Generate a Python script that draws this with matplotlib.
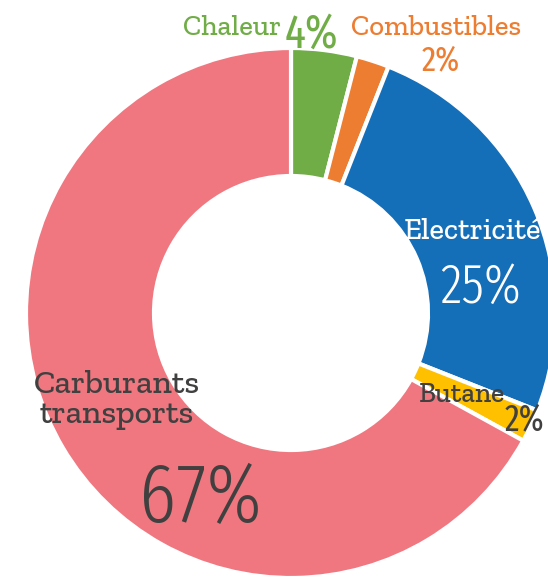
import matplotlib.pyplot as plt

# share of energy consumption
categories = ['Chaleur', 'Combustibles', 'Electricité', 'Butane', 'Carburants\ntransports']
values = [4, 2, 25, 2, 67]
colors = ['#70AD47', '#ED7D31', '#156EB8', '#FFC000', '#F0777F']
text_colors = ['#70AD47', '#ED7D31', '#FFFFFF', '#404040', '#404040']

W, H = 548, 577
fig = plt.figure(figsize=(W / 100, H / 100), dpi=100)
ax = fig.add_axes([0, 0, 1, 1])

cx, cy = 291, H - 313
R, r = 265, 137
ax.pie(values, colors=colors, startangle=90, counterclock=False,
       center=(cx, cy), radius=R,
       wedgeprops=dict(width=R - r, edgecolor='white', linewidth=3))
ax.set_xlim(0, W)
ax.set_ylim(0, H)
ax.set_aspect('equal')
ax.axis('off')

serif = dict(family='Zilla Slab', fontweight=500)
narrow = dict(family='Fira Sans Extra Condensed', fontweight=300)
narrow_small = dict(family='Fira Sans Extra Condensed', fontweight=400)

def label(x, y, s, size, col, font):
    # x = centre, y = baseline (pixels from top)
    ax.text(x, H - y, s, fontsize=size, color=col, ha='center', va='baseline', **font)

pct = [f'{v}%' for v in values]

# Chaleur
label(232, 35, categories[0], 20.5, text_colors[0], serif)
label(311, 48, pct[0], 34, text_colors[0], narrow_small)
# Combustibles
label(436, 35, categories[1], 20.5, text_colors[1], serif)
label(441, 70, pct[1], 25, text_colors[1], narrow_small)
# Electricité
label(472, 239, categories[2], 22, text_colors[2], serif)
label(481, 303, pct[2], 40, text_colors[2], narrow)
# Butane
label(462, 402, categories[3], 20, text_colors[3], serif)
label(524, 430, pct[3], 26, text_colors[3], narrow_small)
# Carburants transports
for i, line in enumerate(categories[4].split('\n')):
    label(117, 393 + 30 * i, line, 24, text_colors[4], serif)
label(200, 522, pct[4], 60, text_colors[4], narrow)

fig.savefig('out.png', dpi=100)
